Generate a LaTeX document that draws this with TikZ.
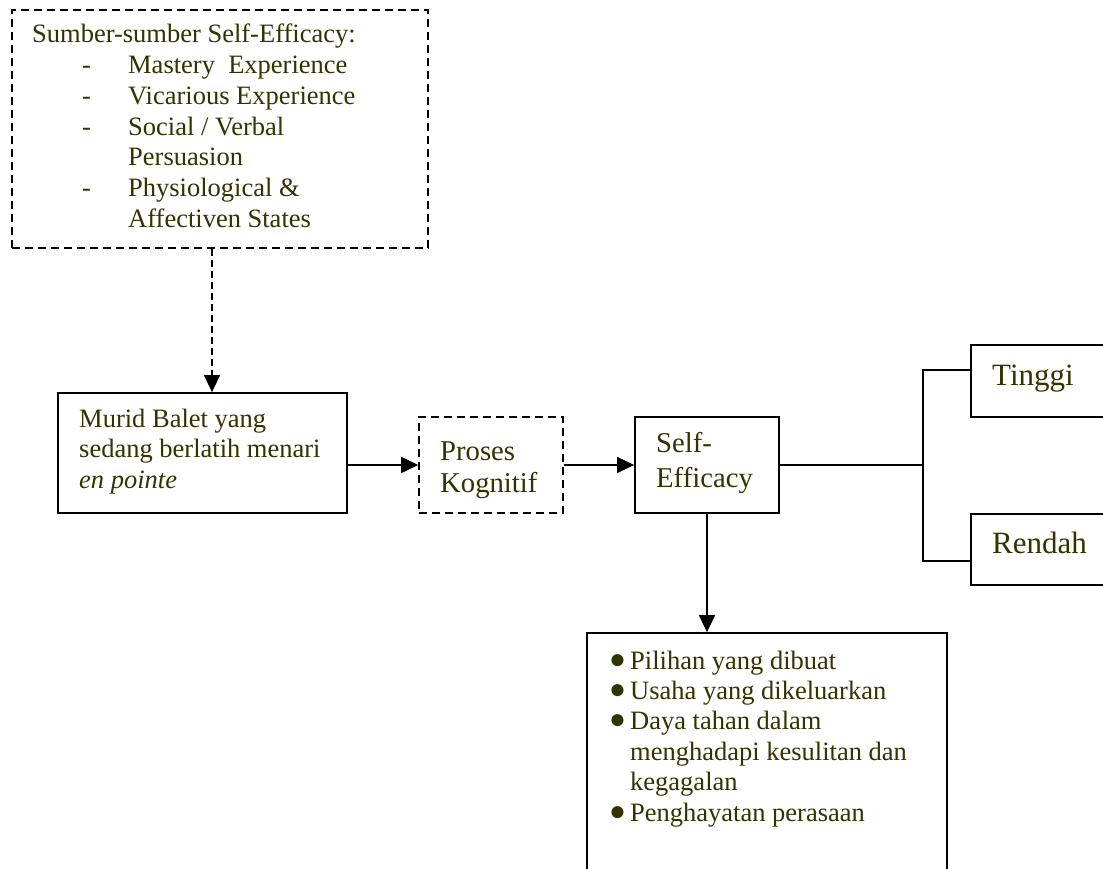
\documentclass[tikz,border=0pt]{standalone}
\usepackage{fontspec}
\setmainfont{Liberation Serif}
\usetikzlibrary{arrows.meta}
\definecolor{olivetext}{RGB}{51,51,0}
\newcommand{\blt}{\makebox[21pt][l]{\raisebox{1pt}{\fontsize{28}{28}\selectfont ●}}}
\newcommand{\dsh}{\hspace*{50pt}\makebox[46pt][l]{-}}
\newcommand{\ind}{\hspace*{96pt}}
\begin{document}
\begin{tikzpicture}[x=1pt,y=-1pt,
  box/.style={draw, line width=1.8pt, inner sep=0pt, rectangle},
  dbox/.style={box, line width=1.6pt, dash pattern=on 8pt off 5pt},
  txt/.style={inner sep=0pt, anchor=base west, text=olivetext, font=\fontsize{26.5}{30.7}\selectfont},
  conn/.style={line width=1.7pt},
  arr/.style={conn, -{Triangle[length=17pt,width=16pt]}}
]
\clip (0,0) rectangle (1103,869);
\fill[white] (0,0) rectangle (1103,869);

% boxes
\node[dbox, minimum width=416pt, minimum height=238pt] (src) at (220,129) {};
\node[box, minimum width=289pt, minimum height=120pt] (murid) at (202.5,453) {};
\node[dbox, minimum width=144pt, minimum height=96pt] (proses) at (491,465) {};
\node[box, minimum width=144pt, minimum height=96pt] (se) at (707,465) {};
\node[box, minimum width=149pt, minimum height=72pt] (tinggi) at (1045.5,381) {};
\node[box, minimum width=149pt, minimum height=71pt] (rendah) at (1045.5,549.5) {};
\node[box, minimum width=360pt, minimum height=257pt] (effects) at (767,761.5) {};

% texts
\node[txt] (srctext) at (32,43) {\begin{tabular}[t]{@{}l@{}}
Sumber-sumber Self-Efficacy:\\
\dsh Mastery\ \ Experience\\
\dsh Vicarious Experience\\
\dsh Social / Verbal\\
\ind Persuasion\\
\dsh Physiological \&\\
\ind Affectiven States
\end{tabular}};
\node[txt] (muridtext) at (79,427) {\begin{tabular}[t]{@{}l@{}}
Murid Balet yang\\
sedang berlatih menari\\
\textit{en pointe}
\end{tabular}};
\node[txt, font=\fontsize{28.7}{32}\selectfont] (prosestext) at (440,460) {\begin{tabular}[t]{@{}l@{}}
Proses\\
Kognitif
\end{tabular}};
\node[txt, font=\fontsize{28.7}{35}\selectfont] (setext) at (656,452) {\begin{tabular}[t]{@{}l@{}}
Self-\\
Efficacy
\end{tabular}};
\node[txt, font=\fontsize{31}{36}\selectfont] (tinggitext) at (992,385) {Tinggi};
\node[txt, font=\fontsize{31}{36}\selectfont] (rendahtext) at (992,553) {Rendah};
\node[txt, font=\fontsize{26.5}{30.4}\selectfont] (efftext) at (609,669) {\begin{tabular}[t]{@{}l@{}}
\blt Pilihan yang dibuat\\
\blt Usaha yang dikeluarkan\\
\blt Daya tahan dalam\\
\hspace*{21pt}menghadapi kesulitan dan\\
\hspace*{21pt}kegagalan\\
\blt Penghayatan perasaan
\end{tabular}};

% connectors
\coordinate (br) at (923,465);
\coordinate (tj) at (971,370);
\coordinate (rj) at (971,561);
\draw[arr, line width=1.5pt, dash pattern=on 7pt off 4pt] ([xshift=-8pt]src.south) -- ([xshift=-8pt]src.south |- murid.north);
\draw[arr] (murid.east |- proses.west) -- (proses.west);
\draw[arr] (proses.east) -- (se.west);
\draw[conn] (se.east) -- (br);
\draw[conn] (tj) -| (br) |- (rj);
\draw[arr] (se.south) -- (se.south |- effects.north);
\end{tikzpicture}
\end{document}
